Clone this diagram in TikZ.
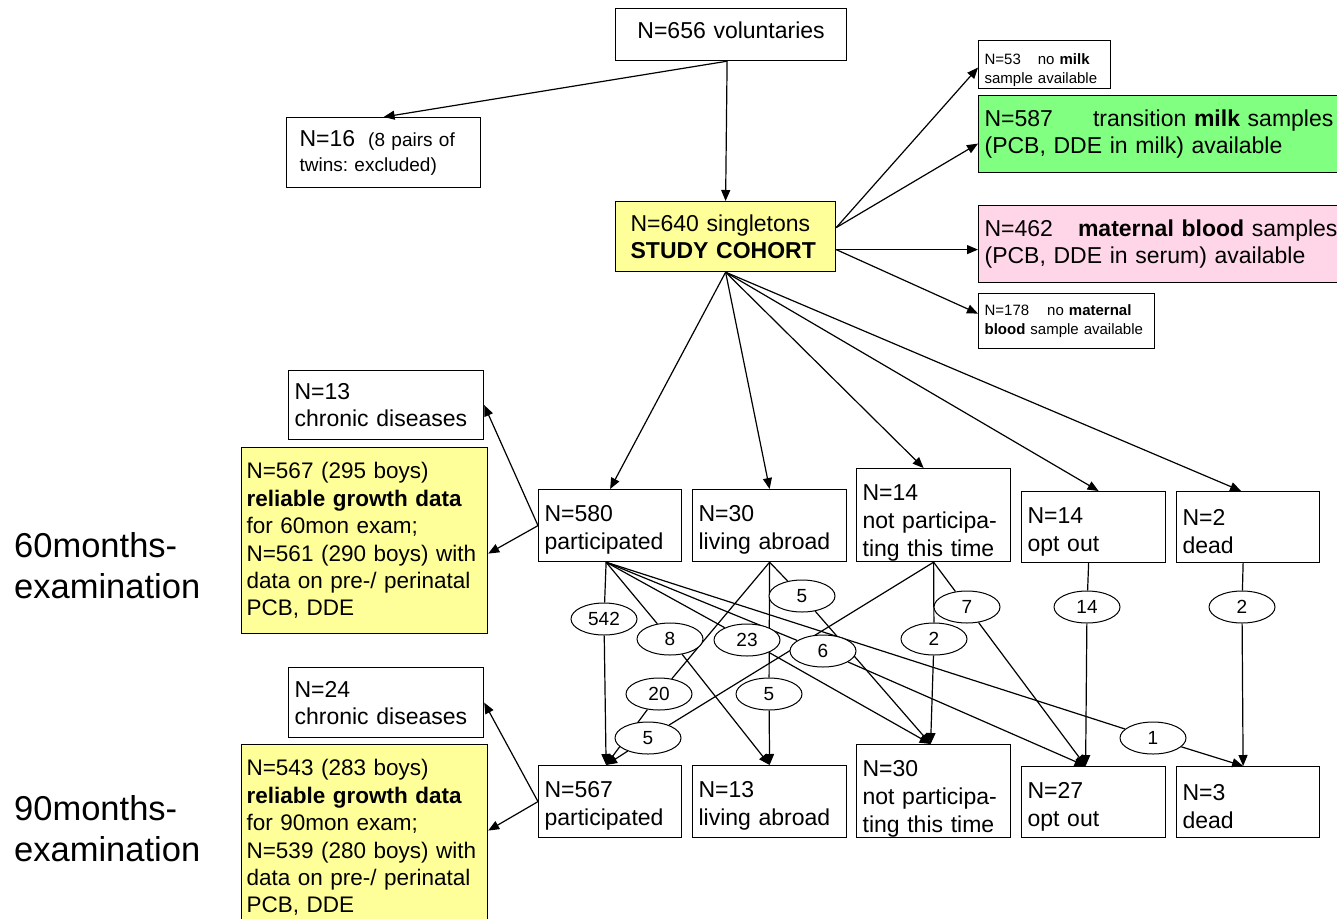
\documentclass[tikz,border=0pt]{standalone}
\usepackage{fontspec}
\setmainfont{Liberation Sans}
\usetikzlibrary{arrows.meta,shapes.geometric,calc}
\pgfdeclarelayer{bg}
\pgfsetlayers{bg,main}
\definecolor{yel}{RGB}{255,255,153}
\definecolor{grn}{RGB}{128,255,128}
\definecolor{pnk}{RGB}{255,214,232}
\newcommand{\strA}{\rule{0pt}{25pt}}
\newcommand{\strB}{\rule{0pt}{31pt}}
\tikzset{
 bx/.style={draw=black, line width=1.2pt, anchor=north west, inner xsep=6pt, inner ysep=0pt, align=left, font=\fontsize{23}{28}\selectfont},
 bxs/.style={bx, font=\fontsize{15}{19}\selectfont},
 bxy/.style={bx, fill=yel, inner xsep=5pt, font=\fontsize{22.5}{27.4}\selectfont},
 lab/.style={ellipse, draw, line width=1pt, fill=white, minimum width=66pt, minimum height=32pt, inner sep=0pt, font=\fontsize{19}{19}\selectfont},
 arr/.style={line width=1.2pt, -{Triangle[length=11pt,width=9pt]}},
 ln/.style={line width=1.2pt},
 side/.style={anchor=west, align=left, inner sep=0pt, font=\fontsize{34.5}{41}\selectfont},
}
\begin{document}
\frenchspacing
\begin{tikzpicture}[x=1pt,y=-1pt]
\useasboundingbox (0,0) rectangle (1337,918);
\begin{pgfonlayer}{bg}
\fill[white] (0,0) rectangle (1337,918);
\end{pgfonlayer}
\clip (0,0) rectangle (1337,918);

% top
\node[bx, align=center, text width=219pt, minimum height=52pt] (n656) at (615,8) {N=656 voluntaries\\[-20pt]\mbox{}};
\node[bx, inner xsep=13pt, text width=168pt, minimum height=70pt, font=\fontsize{19}{25}\selectfont] (n16) at (286,117)
  {{\fontsize{23}{25}\selectfont N=16}\hspace{13pt}(8 pairs of\\twins: excluded)};
\node[bx, fill=yel, inner xsep=15pt, text width=190pt, minimum height=70pt, font=\fontsize{23}{27}\selectfont] (s640) at (615,201)
  {N=640 singletons\\\textbf{STUDY COHORT}};

% right
\node[bxs, text width=120pt, minimum height=48pt] (m53) at (978,40) {\rule{0pt}{22pt}N=53\hspace{17pt}no \textbf{milk}\\sample available};
\node[bx, fill=grn, text width=388pt, minimum height=77pt, font=\fontsize{23}{27}\selectfont] (g587) at (978,95)
  {N=587\hspace*{40pt}transition \textbf{milk} samples\\(PCB, DDE in milk) available};
\node[bx, fill=pnk, text width=388pt, minimum height=77pt, font=\fontsize{23}{27}\selectfont] (p462) at (978,205)
  {N=462\hspace*{25pt}\textbf{maternal blood} samples\\(PCB, DDE in serum) available};
\node[bxs, text width=164pt, minimum height=55pt] (b178) at (978,293) {N=178\hspace{18pt}no \textbf{maternal}\\\textbf{blood} sample available};

% left, 60 months
\node[bx, text width=183pt, minimum height=69pt, font=\fontsize{23}{27}\selectfont] (c13) at (288,370) {N=13\\chronic diseases};
\node[bxy, text width=236pt, minimum height=186pt] (y60) at (241,447)
  {N=567 (295 boys)\\\textbf{reliable growth data}\\for 60mon exam;\\N=561 (290 boys) with\\data on pre-/ perinatal\\PCB, DDE};
\node[side] (l60) at (14,566) {60months-\\examination};

% left, 90 months
\node[bx, text width=183pt, minimum height=70pt, font=\fontsize{23}{27}\selectfont] (c24) at (288,667) {N=24\\chronic diseases};
\node[bxy, text width=236pt, minimum height=186pt] (y90) at (241,744)
  {N=543 (283 boys)\\\textbf{reliable growth data}\\for 90mon exam;\\N=539 (280 boys) with\\data on pre-/ perinatal\\PCB, DDE};
\node[side] (l90) at (14,829) {90months-\\examination};

% row 60
\node[bx, text width=131pt, minimum height=72pt] (p60) at (538,489) {\strA N=580\\participated};
\node[bx, text width=142pt, minimum height=72pt] (a60) at (692,489) {\strA N=30\\living abroad};
\node[bx, text width=142pt, minimum height=93pt] (n60) at (856,468) {\strB N=14\\not participa-\\ting this time};
\node[bx, text width=132pt, minimum height=71pt] (o60) at (1021,491) {\strA N=14\\opt out};
\node[bx, text width=131pt, minimum height=71pt] (d60) at (1176,491) {\strA N=2\\dead};

% row 90
\node[bx, text width=131pt, minimum height=72pt] (p90) at (538,765) {\strA N=567\\participated};
\node[bx, text width=142pt, minimum height=72pt] (a90) at (692,765) {\strA N=13\\living abroad};
\node[bx, text width=142pt, minimum height=93pt] (n90) at (856,744) {\strB N=30\\not participa-\\ting this time};
\node[bx, text width=132pt, minimum height=71pt] (o90) at (1021,766) {\strA N=27\\opt out};
\node[bx, text width=131pt, minimum height=71pt] (d90) at (1176,766) {\strA N=3\\dead};

% ellipse labels
\node[lab] (e542) at (604,619) {542};
\node[lab] (e8) at (670,639) {8};
\node[lab] (e23) at (747,640) {23};
\node[lab] (e6) at (823,651) {6};
\node[lab] (e1) at (1153,738) {1};
\node[lab] (e20) at (659,694) {20};
\node[lab] (e5m) at (769,694) {5};
\node[lab] (e5t) at (802,596) {5};
\node[lab] (e5b) at (648,738) {5};
\node[lab] (e2n) at (934,639) {2};
\node[lab] (e7) at (967,607) {7};
\node[lab] (e14) at (1087,607) {14};
\node[lab] (e2d) at (1242,607) {2};

\coordinate (P6) at ([xshift=-4pt]p60.south);
\coordinate (A6) at (a60.south);
\coordinate (N6) at (n60.south);
\coordinate (O6) at ([xshift=-5pt]o60.south);
\coordinate (D6) at ([xshift=-5pt]d60.south);
\coordinate (P9) at ([xshift=-4pt]p90.north);
\coordinate (A9) at (a90.north);
\coordinate (N9) at ([xshift=-3pt]n90.north);
\coordinate (O9) at ([xshift=-8pt]o90.north);
\coordinate (D9) at ([xshift=-5pt]d90.north);

\begin{pgfonlayer}{bg}
\draw[arr] ([xshift=-4pt]n656.south) -- (n16.north);
\draw[arr] ([xshift=-4pt]n656.south) -- (s640.north);
\draw[arr] ([yshift=9pt]s640.east) -- ([yshift=-3pt]m53.west);
\draw[arr] ([yshift=9pt]s640.east) -- ([yshift=-9.5pt]g587.west);
\draw[arr] ([yshift=-13pt]s640.east) -- ([yshift=-5.5pt]p462.west);
\draw[arr] ([yshift=-13pt]s640.east) -- ([yshift=7.5pt]b178.west);
\draw[arr] (s640.south) -- (p60.north);
\draw[arr] (s640.south) -- (a60.north);
\draw[arr] (s640.south) -- ([xshift=-10pt]n60.north);
\draw[arr] (s640.south) -- ([xshift=5pt]o60.north);
\draw[arr] (s640.south) -- ([xshift=-7pt]d60.north);
\draw[arr] (p60.west) -- (c13.east);
\draw[arr] (p60.west) -- ([yshift=-13pt]y60.east);
\draw[arr] (p90.west) -- (c24.east);
\draw[arr] (p90.west) -- ([yshift=7pt]y90.east);

\draw[ln] (P6) -- (e542); \draw[arr] (e542) -- (P9);
\draw[ln] (P6) -- (e8);   \draw[arr] (e8) -- (A9);
\draw[ln] (P6) -- (e23);  \draw[arr] (e23) -- (N9);
\draw[ln] (P6) -- (e6);   \draw[arr] (e6) -- (O9);
\draw[ln] (P6) -- (e1);   \draw[arr] (e1) -- (D9);
\draw[ln] (A6) -- (e20);  \draw[arr] (e20) -- (P9);
\draw[ln] (A6) -- (e5m);  \draw[arr] (e5m) -- (A9);
\draw[ln] (A6) -- (e5t);  \draw[arr] (e5t) -- (N9);
\draw[ln] (N6) -- (e5b);  \draw[arr] (e5b) -- (P9);
\draw[ln] (N6) -- (e2n);  \draw[arr] (e2n) -- (N9);
\draw[ln] (N6) -- (e7);   \draw[arr] (e7) -- (O9);
\draw[ln] (O6) -- (e14);  \draw[arr] (e14) -- (O9);
\draw[ln] (D6) -- (e2d);  \draw[arr] (e2d) -- (D9);
\end{pgfonlayer}
\end{tikzpicture}
\end{document}
